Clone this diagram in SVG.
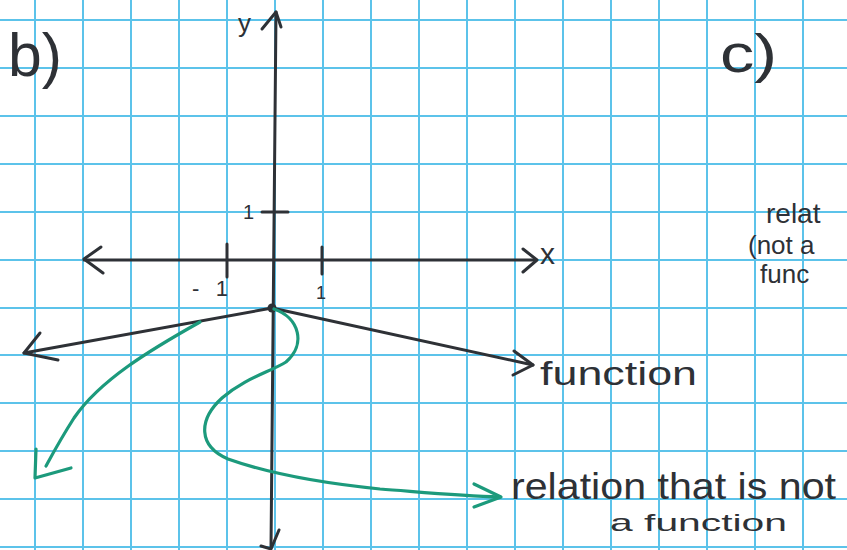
<svg xmlns="http://www.w3.org/2000/svg" width="847" height="550" viewBox="0 0 847 550">
<style>
.grid line{stroke:#5cc3ea;stroke-width:2}
.ink{fill:none;stroke:#2e3136;stroke-width:3;stroke-linecap:round;stroke-linejoin:round}
.grn{fill:none;stroke:#1c9a7c;stroke-width:3.2;stroke-linecap:round;stroke-linejoin:round}
.t{font-family:"Liberation Sans","DejaVu Sans",sans-serif;fill:#2e3136}
</style>
<rect width="847" height="550" fill="#ffffff"/>
<g id="grid" class="grid">
<line x1="35" y1="0" x2="35" y2="550"/><line x1="83" y1="0" x2="83" y2="550"/><line x1="131" y1="0" x2="131" y2="550"/><line x1="179" y1="0" x2="179" y2="550"/><line x1="227" y1="0" x2="227" y2="550"/><line x1="275" y1="0" x2="275" y2="550"/><line x1="323" y1="0" x2="323" y2="550"/><line x1="371" y1="0" x2="371" y2="550"/><line x1="419" y1="0" x2="419" y2="550"/><line x1="467" y1="0" x2="467" y2="550"/><line x1="515" y1="0" x2="515" y2="550"/><line x1="563" y1="0" x2="563" y2="550"/><line x1="611" y1="0" x2="611" y2="550"/><line x1="659" y1="0" x2="659" y2="550"/><line x1="707" y1="0" x2="707" y2="550"/><line x1="755" y1="0" x2="755" y2="550"/><line x1="803" y1="0" x2="803" y2="550"/>
<line x1="0" y1="20" x2="847" y2="20"/><line x1="0" y1="68" x2="847" y2="68"/><line x1="0" y1="116" x2="847" y2="116"/><line x1="0" y1="164" x2="847" y2="164"/><line x1="0" y1="212" x2="847" y2="212"/><line x1="0" y1="260" x2="847" y2="260"/><line x1="0" y1="308" x2="847" y2="308"/><line x1="0" y1="355" x2="847" y2="355"/><line x1="0" y1="403" x2="847" y2="403"/><line x1="0" y1="451" x2="847" y2="451"/><line x1="0" y1="499" x2="847" y2="499"/><line x1="0" y1="547" x2="847" y2="547"/>
</g>
<g id="axes" class="ink">
<path d="M276 12 L271 548"/>
<path d="M262 29 L276 12 L281 27"/>
<path d="M261 546 L271 549 L279 530"/>
<path d="M84 260 L536 260"/>
<path d="M101 247 L84 259 L103 273"/>
<path d="M523 249 L537 260 L523 272"/>
<path d="M262 212 L288 212"/>
<path d="M227 244 L227 277"/>
<path d="M322 247 L322 274"/>
</g>
<g id="function-graph" class="ink">
<path d="M272 308 L24 353"/>
<path d="M40 333 L24 353 L58 360"/>
<path d="M272 308 L533 365"/>
<path d="M514 351 L533 365 L513 375"/>
<circle cx="272" cy="308" r="4.5" fill="#2e3136" stroke="none"/>
</g>
<g id="relation-graph" class="grn">
<path d="M274 309 C300 318 306 345 286 362 C270 372 245 378 222 398 C198 420 198 446 228 459 C270 474 330 484 380 489 C420 492 460 496 500 497"/>
<path d="M474 484 L501 497 L474 507"/>
<path d="M200 322 C150 350 100 380 74 418 C60 440 52 455 46 466"/>
<path d="M36 449 L35 478 L71 468"/>
</g>
<g id="labels">
<text class="t" x="8" y="76" font-size="62" textLength="54" lengthAdjust="spacingAndGlyphs">b)</text>
<text class="t" x="720" y="72" font-size="54" textLength="57" lengthAdjust="spacingAndGlyphs">c)</text>
<text class="t" x="238" y="32" font-size="26">y</text>
<text class="t" x="243" y="219" font-size="20">1</text>
<text class="t" x="192" y="296" font-size="22" textLength="36" lengthAdjust="spacing">-1</text>
<text class="t" x="316" y="299" font-size="18">1</text>
<text class="t" x="540" y="264" font-size="30">x</text>
<text class="t" x="540" y="385" font-size="34" textLength="157" lengthAdjust="spacingAndGlyphs">function</text>
<text class="t" x="511" y="499" font-size="37" textLength="325" lengthAdjust="spacingAndGlyphs">relation that is not</text>
<text class="t" x="610" y="531" font-size="24" textLength="177" lengthAdjust="spacingAndGlyphs">a function</text>
<text class="t" x="766" y="223" font-size="28">relat</text>
<text class="t" x="748" y="254" font-size="26">(not a</text>
<text class="t" x="760" y="283" font-size="26">func</text>
</g>
</svg>
